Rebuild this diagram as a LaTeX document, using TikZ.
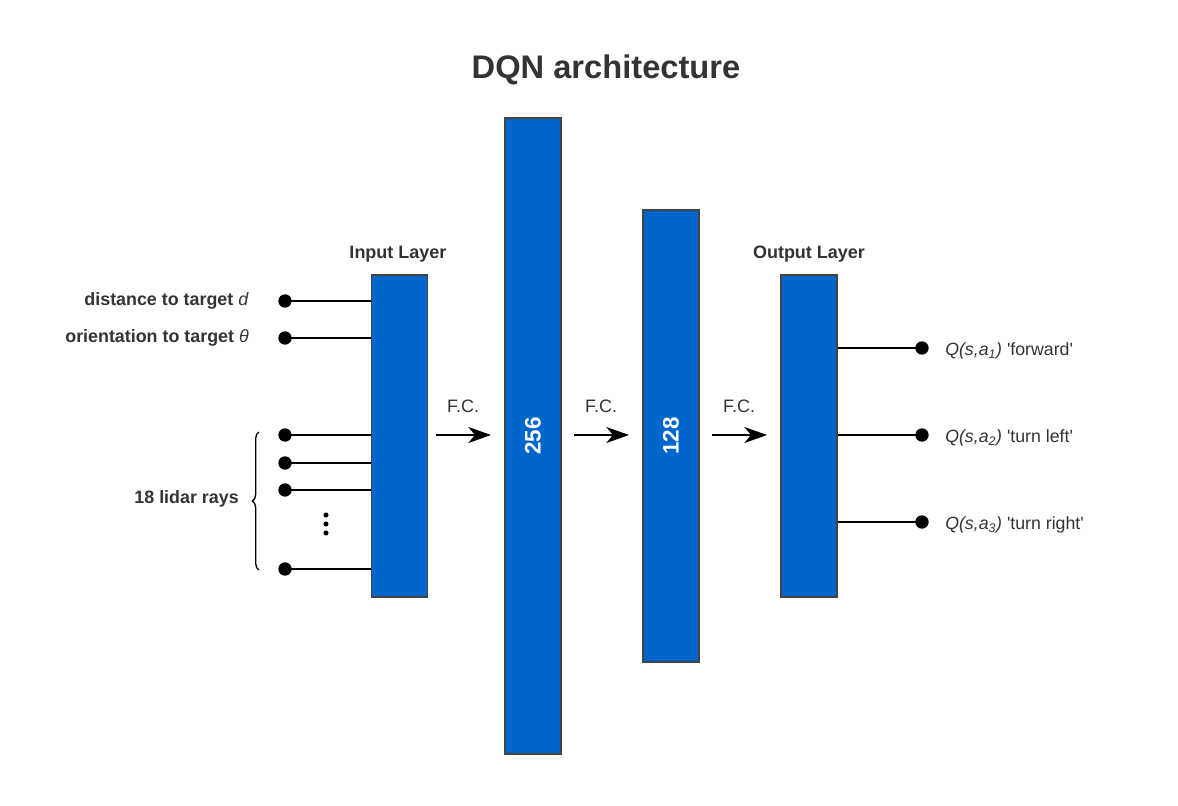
\documentclass[tikz,border=0pt]{standalone}
\usepackage{fontspec}
\setmainfont{Liberation Sans}
\usetikzlibrary{arrows.meta,decorations.pathreplacing}
\definecolor{layerblue}{HTML}{0066CC}
\definecolor{txt}{HTML}{333333}
\definecolor{edge}{HTML}{444444}
\tikzset{
  layer/.style={draw=edge, line width=0.9pt, fill=layerblue, inner sep=0pt, minimum width=42pt},
  dot/.style={circle, fill=black, inner sep=0pt, minimum size=10pt},
  wire/.style={line width=1.7pt, black},
  fcarrow/.style={line width=1.7pt, -{Stealth[length=17pt,width=12pt,inset=5pt]}},
  heading/.style={font=\bfseries\fontsize{13.5}{16}\selectfont, text=txt},
  inlabel/.style={font=\bfseries\fontsize{13.4}{16}\selectfont, text=txt, anchor=east, inner sep=0pt},
  outlabel/.style={font=\fontsize{13.3}{16}\selectfont, text=txt, anchor=west, inner sep=0pt},
  fclabel/.style={font=\fontsize{13.5}{16}\selectfont, text=txt},
  num/.style={font=\bfseries\fontsize{16.8}{19}\selectfont, text=white, rotate=90}
}
\begin{document}
\begin{tikzpicture}[x=0.75pt,y=-0.75pt]
\useasboundingbox (0,0) rectangle (1178,806);
% title
\node[font=\bfseries\fontsize{24.5}{28}\selectfont, text=txt] (title) at (606,70) {DQN architecture};
% layers
\node[layer, minimum height=241.5pt] (in) at (399.5,436) {};
\node[layer, minimum height=477pt] (h1) at (533,436) {};
\node[layer, minimum height=339pt] (h2) at (671,436) {};
\node[layer, minimum height=241.5pt] (out) at (809,436) {};
\node[num] (n256) at (h1) {256};
\node[num] (n128) at (h2) {128};
\node[heading] (inh) at (398,254) {Input Layer};
\node[heading] (outh) at (809,254) {Output Layer};
% inputs
\node[dot] (d1) at (285,301) {};
\node[dot] (d2) at (285,338) {};
\node[dot] (r1) at (285,435) {};
\node[dot] (r2) at (285,463) {};
\node[dot] (r3) at (285,490) {};
\node[dot] (r4) at (285,569) {};
\foreach \n in {d1,d2,r1,r2,r3,r4} \draw[wire] (\n.center) -- (\n -| in.west);
\node[inlabel] (ld) at (249,301) {distance to target \textnormal{\textit{d}}};
\node[inlabel] (lo) at (249,338) {orientation to target \textnormal{\textit{θ}}};
\node[inlabel] (lr) at (239,499) {18 lidar rays};
\coordinate (bb) at (259,570);
\coordinate (bt) at (259,432);
\draw[line width=1pt, decorate, decoration={brace, amplitude=5pt}] (bb) -- (bt);
\node[circle, fill=black, inner sep=0pt, minimum size=3.8pt] (v1) at (326,515) {};
\node[circle, fill=black, inner sep=0pt, minimum size=3.8pt] (v2) at (326,524) {};
\node[circle, fill=black, inner sep=0pt, minimum size=3.8pt] (v3) at (326,533) {};
% F.C. arrows
\coordinate (a1s) at (436,435); \coordinate (a1e) at (491,435);
\coordinate (a2s) at (574,435); \coordinate (a2e) at (629,435);
\coordinate (a3s) at (712,435); \coordinate (a3e) at (767,435);
\draw[fcarrow] (a1s) -- (a1e);
\draw[fcarrow] (a2s) -- (a2e);
\draw[fcarrow] (a3s) -- (a3e);
\node[fclabel] (f1) at (463,406) {F.C.};
\node[fclabel] (f2) at (601,406) {F.C.};
\node[fclabel] (f3) at (739,406) {F.C.};
% outputs
\node[dot] (o1) at (922,348) {};
\node[dot] (o2) at (922,435) {};
\node[dot] (o3) at (922,522) {};
\foreach \n in {o1,o2,o3} \draw[wire] (\n -| out.east) -- (\n.center);
\node[outlabel] (q1) at (945,351) {\textit{Q(s,a\textsubscript{1})} \textquotesingle forward\textquotesingle};
\node[outlabel] (q2) at (945,438) {\textit{Q(s,a\textsubscript{2})} \textquotesingle turn left\textquotesingle};
\node[outlabel] (q3) at (945,525) {\textit{Q(s,a\textsubscript{3})} \textquotesingle turn right\textquotesingle};
\end{tikzpicture}
\end{document}
